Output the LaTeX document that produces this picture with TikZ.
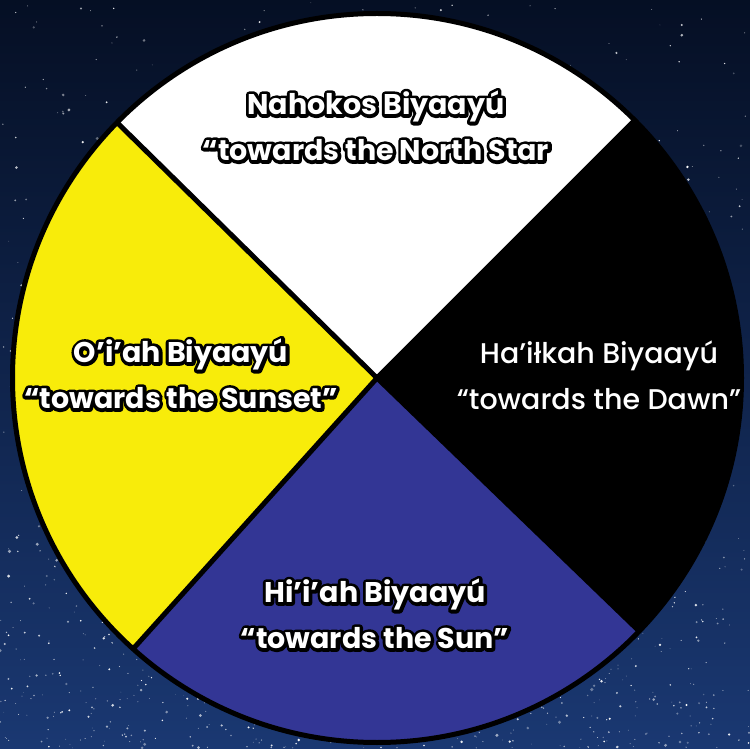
\documentclass[tikz,border=0pt]{standalone}
\usepackage{fontspec}
\setmainfont{Poppins}
\newfontfamily\popmed{Poppins Medium}
\newfontfamily\popbold{Poppins Bold}
\newcommand\outlinedtext[1]{\makebox[0pt][l]{\special{pdf:literal direct 0 0 0 RG 6.5 w 1 j 1 J 1 Tr}#1\special{pdf:literal direct 0 Tr}}#1}
\definecolor{skytop}{HTML}{050F24}
\definecolor{skybot}{HTML}{1A3872}
\definecolor{sunyellow}{HTML}{F8EC0A}
\definecolor{sunblue}{HTML}{333695}
\tikzset{
  divider/.style={line width=5pt, draw=black},
  rim/.style={line width=5pt, draw=black},
  olabel/.style={text=white, font=\popbold\fontsize{28.5}{46}\selectfont, align=center},
  plabel/.style={text=white, font=\popmed\fontsize{28.5}{46}\selectfont, align=center},
  star/.style={fill=white},
}
\begin{document}
\begin{tikzpicture}[x=1pt,y=1pt]
\useasboundingbox (0,0) rectangle (750,748);
\shade[top color=skytop, bottom color=skybot] (0,0) rectangle (750,748);
\pgfmathsetseed{7}
\foreach \i in {1,...,700}{
  \pgfmathsetmacro\sx{rnd*750}
  \pgfmathsetmacro\sy{rnd*748}
  \pgfmathsetmacro\sr{0.4+rnd*rnd*1.6}
  \pgfmathsetmacro\so{0.25+rnd*0.75}
  \fill[star, opacity=\so] (\sx,\sy) circle (\sr);
}
\foreach \i in {1,...,500}{
  \pgfmathsetmacro\sx{rnd*750}
  \pgfmathsetmacro\sy{rnd*rnd*300}
  \pgfmathsetmacro\sr{0.4+rnd*rnd*1.4}
  \pgfmathsetmacro\so{0.3+rnd*0.7}
  \fill[star, opacity=\so] (\sx,\sy) circle (\sr);
}
\coordinate (c) at (377,370);
\fill[white] (c) -- ++(45:365) arc[start angle=45, end angle=135.5, radius=365] -- cycle;
\fill[sunyellow] (c) -- ++(135.5:365) arc[start angle=135.5, end angle=228, radius=365] -- cycle;
\fill[sunblue] (c) -- ++(228:365) arc[start angle=228, end angle=316, radius=365] -- cycle;
\fill[black] (c) -- ++(316:365) arc[start angle=316, end angle=405, radius=365] -- cycle;
\draw[divider] (c) -- ++(135.5:365);
\draw[divider] (c) -- ++(228:365);
\draw[divider] (c) -- ++(45:365);
\draw[divider] (c) -- ++(316:365);
\draw[rim] (c) circle (364.5);
\node[olabel] (north) at (376,622) {\outlinedtext{Nahokos Biyaayú}\\\outlinedtext{“towards the North Star}};
\node[olabel] (sunset) at (181,374) {\outlinedtext{O’i’ah Biyaayú}\\\outlinedtext{“towards the Sunset”}};
\node[plabel] (dawn) at (599,373) {Ha’iłkah Biyaayú\\“towards the Dawn”};
\node[olabel] (sun) at (375,134) {\outlinedtext{Hi’i’ah Biyaayú}\\\outlinedtext{“towards the Sun”}};
\end{tikzpicture}
\end{document}
